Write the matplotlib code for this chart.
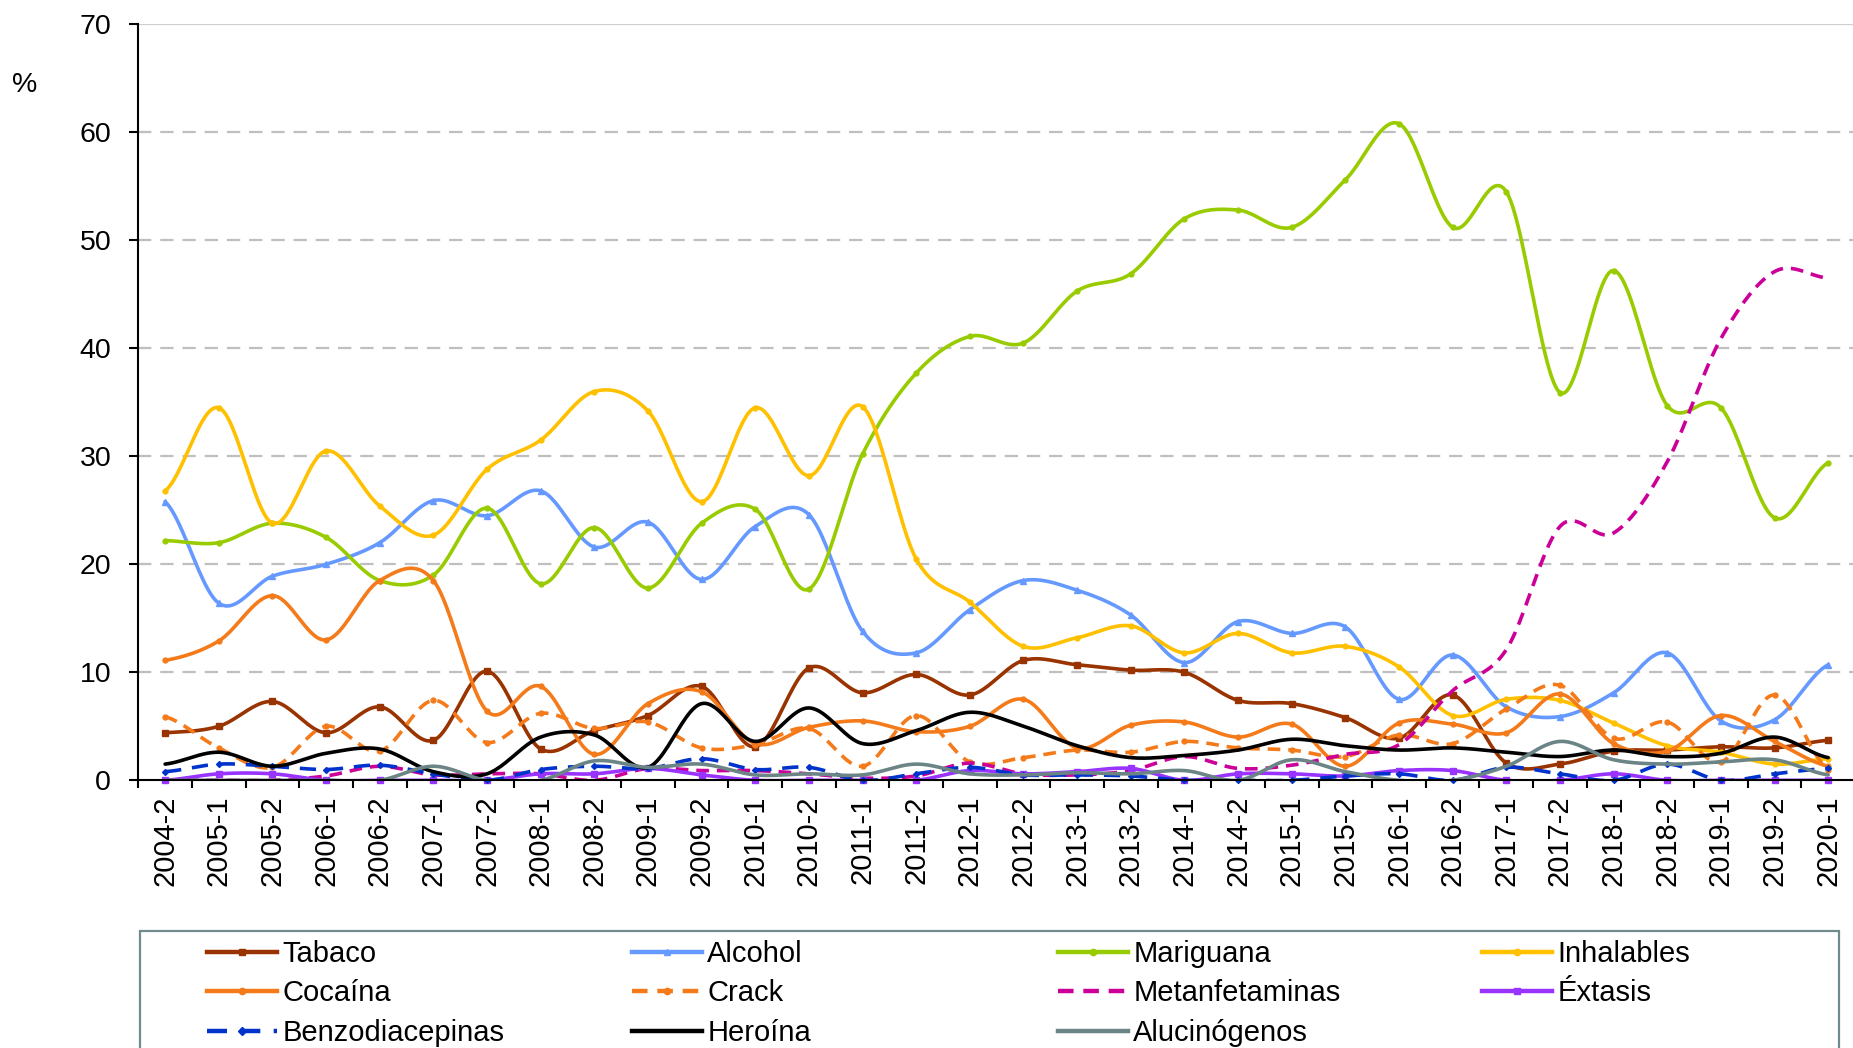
import numpy as np
import matplotlib
matplotlib.use("Agg")
import matplotlib.pyplot as plt
from matplotlib.lines import Line2D
from matplotlib.patches import Rectangle

plt.rcParams['font.family'] = ['Liberation Sans', 'DejaVu Sans']

periods = ["2004-2", "2005-1", "2005-2", "2006-1", "2006-2", "2007-1", "2007-2", "2008-1",
           "2008-2", "2009-1", "2009-2", "2010-1", "2010-2", "2011-1", "2011-2", "2012-1",
           "2012-2", "2013-1", "2013-2", "2014-1", "2014-2", "2015-1", "2015-2", "2016-1",
           "2016-2", "2017-1", "2017-2", "2018-1", "2018-2", "2019-1", "2019-2", "2020-1"]

tabaco = [4.4, 5.0, 7.3, 4.4, 6.8, 3.7, 10.1, 2.9, 4.6, 6.0, 8.7, 3.1, 10.4, 8.1, 9.8, 7.9,
          11.1, 10.7, 10.2, 10.0, 7.4, 7.1, 5.8, 3.9, 7.9, 1.6, 1.5, 2.7, 2.8, 3.1, 3.0, 3.7]
alcohol = [25.8, 16.4, 18.9, 20.0, 22.0, 25.9, 24.5, 26.8, 21.6, 23.9, 18.6, 23.5, 24.6, 13.8,
           11.8, 15.8, 18.5, 17.6, 15.3, 10.9, 14.7, 13.6, 14.2, 7.5, 11.6, 6.8, 5.9, 8.1,
           11.8, 5.5, 5.6, 10.7]
mariguana = [22.2, 22.0, 23.8, 22.5, 18.5, 19.0, 25.2, 18.2, 23.4, 17.8, 23.8, 25.1, 17.7, 30.2,
             37.7, 41.1, 40.5, 45.3, 46.9, 52.0, 52.8, 51.2, 55.6, 60.8, 51.2, 54.5, 35.9, 47.2,
             34.7, 34.5, 24.3, 29.4]
inhalables = [26.8, 34.5, 23.8, 30.5, 25.4, 22.7, 28.8, 31.5, 36.0, 34.2, 25.8, 34.5, 28.2, 34.6,
              20.5, 16.5, 12.4, 13.2, 14.3, 11.8, 13.6, 11.8, 12.4, 10.5, 6.0, 7.5, 7.4, 5.3,
              3.2, 2.6, 1.5, 2.0]
cocaina = [11.1, 12.9, 17.1, 13.0, 18.5, 18.5, 6.4, 8.7, 2.4, 7.1, 8.2, 3.4, 4.9, 5.5, 4.5, 5.0,
           7.5, 3.0, 5.1, 5.4, 4.0, 5.2, 1.3, 5.3, 5.2, 4.4, 8.0, 3.4, 2.7, 6.0, 3.6, 1.3]
crack = [5.9, 3.0, 1.2, 5.0, 2.7, 7.4, 3.5, 6.2, 4.8, 5.4, 3.0, 3.3, 4.8, 1.3, 6.0, 1.7,
         2.1, 2.8, 2.6, 3.6, 3.0, 2.8, 2.2, 4.2, 3.4, 6.6, 8.8, 3.9, 5.4, 1.7, 7.9, 1.0]
metanfetaminas = [0.0, 0.0, 0.0, 0.4, 1.3, 0.5, 0.6, 0.6, 0.0, 1.1, 0.9, 0.9, 0.6, 0.2, 0.4, 1.6,
                  0.6, 0.5, 0.9, 2.2, 1.1, 1.4, 2.4, 3.3, 8.3, 12.1, 23.5, 22.9, 29.5, 40.9,
                  47.1, 46.5]
extasis = [0.0, 0.6, 0.6, 0.0, 0.0, 0.0, 0.0, 0.6, 0.6, 1.1, 0.5, 0.0, 0.0, 0.0, 0.0, 0.9,
           0.6, 0.8, 1.1, 0.0, 0.6, 0.6, 0.4, 0.9, 0.9, 0.0, 0.0, 0.6, 0.0, 0.0, 0.0, 0.0]
benzodiacepinas = [0.8, 1.5, 1.3, 1.0, 1.4, 0.6, 0.0, 1.0, 1.3, 1.1, 2.0, 1.0, 1.2, 0.0, 0.6, 1.2,
                   0.5, 0.5, 0.4, 0.0, 0.0, 0.0, 0.4, 0.6, 0.0, 1.2, 0.6, 0.0, 1.5, 0.0, 0.6, 1.1]
heroina = [1.5, 2.6, 1.3, 2.5, 2.9, 0.8, 0.6, 4.0, 4.2, 1.2, 7.1, 3.6, 6.7, 3.4, 4.6, 6.3,
           5.0, 3.2, 2.1, 2.3, 2.8, 3.8, 3.2, 2.8, 3.0, 2.6, 2.2, 2.8, 2.2, 2.5, 4.0, 2.1]
alucinogenos = [0.0, 0.0, 0.0, 0.0, 0.0, 1.3, 0.0, 0.0, 1.8, 1.2, 1.5, 0.5, 0.6, 0.5, 1.5, 0.6,
                0.5, 0.7, 0.6, 0.9, 0.0, 1.9, 0.8, 0.0, 0.0, 1.3, 3.6, 1.9, 1.5, 1.7, 1.9, 0.5]

series_names = ["Tabaco", "Alcohol", "Mariguana", "Inhalables", "Cocaína", "Crack",
                "Metanfetaminas", "Éxtasis", "Benzodiacepinas", "Heroína", "Alucinógenos"]
series_values = [tabaco, alcohol, mariguana, inhalables, cocaina, crack, metanfetaminas,
                 extasis, benzodiacepinas, heroina, alucinogenos]

styles = {
    "Tabaco": dict(color="#993300", ls="-", marker="s", ms=4),
    "Alcohol": dict(color="#6699FF", ls="-", marker="^", ms=4),
    "Mariguana": dict(color="#99CC00", ls="-", marker="o", ms=3.5),
    "Inhalables": dict(color="#FFC000", ls="-", marker="o", ms=3.5),
    "Cocaína": dict(color="#F47A1A", ls="-", marker="o", ms=3.5),
    "Crack": dict(color="#F47A1A", ls=(0, (3.5, 2.2)), marker="o", ms=3.5),
    "Metanfetaminas": dict(color="#CC0099", ls=(0, (3.5, 2.2)), marker="", ms=0),
    "Éxtasis": dict(color="#9933FF", ls="-", marker="s", ms=4),
    "Benzodiacepinas": dict(color="#0033CC", ls=(0, (4.5, 3.0)), marker="D", ms=3),
    "Heroína": dict(color="#000000", ls="-", marker="", ms=0),
    "Alucinógenos": dict(color="#6B8486", ls="-", marker="", ms=0),
}


def smooth(vals, n=24):
    y = np.asarray(vals, float)
    P = np.concatenate([[y[0]], y, [y[-1]]])
    xs, ys = [], []
    t = np.linspace(0, 1, n, endpoint=False)
    for i in range(len(y) - 1):
        p0, p1, p2, p3 = P[i], P[i + 1], P[i + 2], P[i + 3]
        c1 = p1 + (p2 - p0) / 6.0
        c2 = p2 - (p3 - p1) / 6.0
        b = (1 - t) ** 3 * p1 + 3 * (1 - t) ** 2 * t * c1 + 3 * (1 - t) * t ** 2 * c2 + t ** 3 * p2
        xs.append(i + t)
        ys.append(b)
    xs.append([len(y) - 1])
    ys.append([y[-1]])
    return np.concatenate(xs), np.concatenate(ys)


W, H = 1853, 1048
fig = plt.figure(figsize=(W / 100, H / 100), dpi=100)
ax = fig.add_axes([138.3 / W, 1 - 780.3 / H, (1855 - 138.3) / W, (780.3 - 24.3) / H])

LW = 2.6
handles = {}
for k, (name, vals) in enumerate(zip(series_names, series_values)):
    st = styles[name]
    xs, ys = smooth(vals)
    ax.plot(xs, ys, color=st["color"], ls=st["ls"], lw=LW, zorder=3 + k,
            solid_capstyle="round", dash_capstyle="butt")
    if st["marker"]:
        ax.plot(np.arange(len(vals)), vals, ls="none", marker=st["marker"], ms=st["ms"],
                color=st["color"], mec=st["color"], zorder=3 + k, clip_on=False)
    handles[name] = Line2D([], [], color=st["color"], ls=st["ls"], lw=LW + 0.6,
                           marker=st["marker"] if st["marker"] else None, ms=st["ms"] + 1,
                           mec=st["color"])

ax.set_xlim(-0.5, len(periods) - 0.5)
ax.set_ylim(0, 70)
ax.set_yticks(np.arange(0, 71, 10))
for v in range(10, 61, 10):
    ax.axhline(v, color="#BFBFBF", lw=1.6, ls=(0, (6, 4)), zorder=1)
ax.axhline(70, color="#D0D0D0", lw=1.6, zorder=1)

for s in ["top", "right"]:
    ax.spines[s].set_visible(False)
for s in ["left", "bottom"]:
    ax.spines[s].set_color("black")
    ax.spines[s].set_linewidth(1.5)
    ax.spines[s].set_zorder(20)

ax.set_xticks(np.arange(len(periods)))
ax.set_xticklabels(periods, rotation=90, fontsize=21, va="top", ha="center")
ax.set_xticks(np.arange(-0.5, len(periods), 1), minor=True)
ax.tick_params(axis="x", which="major", length=0, pad=11)
ax.tick_params(axis="x", which="minor", length=6, width=1.5, direction="out", color="black")
ax.tick_params(axis="y", which="major", length=6.5, width=1.5, direction="out", pad=13,
               labelsize=20.5, color="black")

fig.text(12 / W, 1 - 85 / H, "%", fontsize=20.5, ha="left", va="center")

# legend frame
fig.patches.append(Rectangle((140 / W, 1 - 1060 / H), (1839 - 140) / W, (1060 - 931) / H,
                             transform=fig.transFigure, fill=False, ec="#6E8C8C", lw=1.6))

cols = [["Tabaco", "Cocaína", "Benzodiacepinas"],
        ["Alcohol", "Crack", "Heroína"],
        ["Mariguana", "Metanfetaminas", "Alucinógenos"],
        ["Inhalables", "Éxtasis"]]
col_x = [207, 632, 1058, 1482]
for cx, names in zip(col_x, cols):
    fig.legend([handles[n] for n in names], names, loc="upper left",
               bbox_to_anchor=(cx / W, 1 - 940 / H), bbox_transform=fig.transFigure,
               frameon=False, fontsize=21, handlelength=2.4, handletextpad=0.18,
               labelspacing=0.39, borderpad=0, borderaxespad=0)

fig.savefig("out.png", dpi=100, facecolor="white")
